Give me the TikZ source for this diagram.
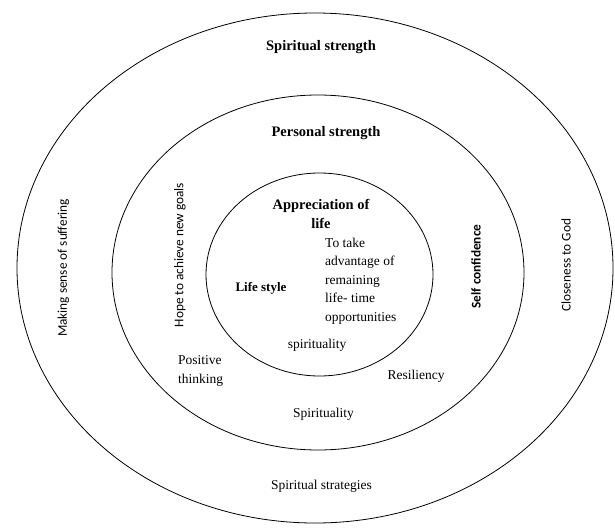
\documentclass[tikz,border=0pt]{standalone}
\usepackage{fontspec}
\setmainfont{Liberation Serif}
\newfontfamily\labelsans{Carlito}
\newfontfamily\labelserif{Liberation Serif}
\usetikzlibrary{positioning}

\begin{document}
\begin{tikzpicture}[
  x=1pt, y=-1pt,
  ring/.style={draw, line width=0.8pt},
  head/.style={font=\labelserif\fontsize{14.5}{19}\selectfont\bfseries, align=center, inner sep=0pt},
  item/.style={font=\labelserif\fontsize{13.5}{18.5}\selectfont, align=left, inner sep=0pt},
  side/.style={font=\labelsans\fontsize{13.3}{16}\selectfont, rotate=90, inner sep=0pt}
]
  \useasboundingbox (0,0) rectangle (615,527);

  %% Rings
  \draw[ring] (315,268) ellipse [x radius=298pt, y radius=255pt];
  \draw[ring] (318,272.5) ellipse [x radius=206pt, y radius=177.5pt];
  \draw[ring] (319.5,274.5) ellipse [x radius=113.5pt, y radius=101.5pt];

  %% Outer ring
  \node[head] (spstrength) at (321,47) {Spiritual strength};
  \node[item] (spstrat) at (321.5,486) {Spiritual strategies};
  \node[side] (meaning) at (63.5,268) {Making sense of suffering};
  \node[side] (closeness) at (566,265) {Closeness to God};

  %% Middle ring
  \node[head] (perstrength) at (326,133) {Personal strength};
  \node[side] (hope) at (180,255) {Hope to achieve new goals};
  \node[side, font=\labelsans\fontsize{13.3}{16}\selectfont\bfseries] (selfconf) at (476,266.5) {Self confidence};
  \node[item, anchor=west] (positive) at (178,371) {Positive\\thinking};
  \node[item] (resil) at (416,376) {Resiliency};
  \node[item] (spirit) at (323.5,414) {Spirituality};

  %% Inner ring
  \node[head] (appr) at (321,213.5) {Appreciation of\\life};
  \node[item, anchor=west] (advantage) at (325,281)
    {To take\\advantage of\\remaining\\life- time\\opportunities};
  \node[item, font=\labelserif\fontsize{13}{16}\selectfont\bfseries] (lifestyle) at (261,288) {Life style};
  \node[item] (spiritin) at (317,345) {spirituality};
\end{tikzpicture}
\end{document}
